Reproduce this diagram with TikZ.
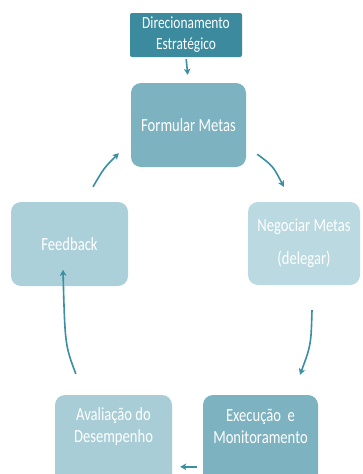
\documentclass[tikz,border=0pt]{standalone}
\usepackage{fontspec}
\setmainfont{Carlito}
\newfontfamily\narrowsans[FakeStretch=0.79]{Carlito}
\usetikzlibrary{calc,arrows.meta}
\definecolor{tealdark}{HTML}{3B8A9E}
\definecolor{tealmid}{HTML}{7DB2C0}
\definecolor{teallight}{HTML}{ACD0D9}
\definecolor{tealpale}{HTML}{BAD9E0}
\definecolor{tealsoft}{HTML}{A8CDD7}
\definecolor{arrowteal}{HTML}{3A8FA3}
\tikzset{
  stage/.style={rectangle, rounded corners=10pt, draw=none, inner sep=0pt,
    text=white, align=center, font=\narrowsans\fontsize{18.5}{22}\selectfont},
  stagetext/.style={inner sep=0pt, text=white, align=center,
    font=\narrowsans\fontsize{18.5}{22}\selectfont},
  flow/.style={draw=arrowteal, line width=1.6pt,
    -{Stealth[length=6pt,width=6.5pt,inset=1.5pt]}}
}
\begin{document}
\begin{tikzpicture}[x=1pt,y=-1pt]
  \useasboundingbox (0,0) rectangle (362,474);
  \clip (0,0) rectangle (362,474);
  \fill[white] (0,0) rectangle (362,474);

  % strategic input
  \node[stage, fill=tealdark, rounded corners=2pt, minimum width=112pt,
        minimum height=44pt, font=\narrowsans\fontsize{17}{21}\selectfont]
        (dir) at (186,35) {Direcionamento\\Estratégico};

  % the five stages of the cycle
  \node[stage, fill=tealmid, minimum width=115pt, minimum height=84pt]
        (fm) at (188.5,125) {Formular Metas};
  \node[stage, fill=tealpale, minimum width=112pt, minimum height=83pt,
        font=\narrowsans\fontsize{18.5}{33}\selectfont]
        (nm) at (304,243.5) {Negociar Metas\\(delegar)};
  \node[stage, fill=teallight, minimum width=117pt, minimum height=84pt]
        (fb) at (69.5,244) {Feedback};
  \node[stage, fill=tealsoft, minimum width=117pt, minimum height=100pt]
        (av) at (113.5,445) {};
  \node[stagetext] (avt) at ($(av.north)+(0,32)$) {Avaliação do\\Desempenho};
  \node[stage, fill=tealmid, minimum width=115pt, minimum height=100pt]
        (ex) at (260.5,445) {};
  \node[stagetext] (ext) at ($(ex.north)+(0,32)$) {Execução\ \ e\\Monitoramento};

  % arrow end points around the cycle
  \coordinate (fm-out) at ($(fm.south east)+(11,-13)$);
  \coordinate (nm-in)  at ($(nm.north west)+(36,-15)$);
  \coordinate (nm-out) at ($(nm.south)+(8,25)$);
  \coordinate (ex-in)  at ($(ex.north)+(39.5,-20)$);
  \coordinate (ex-out) at ($(ex.north west)+(-6,72)$);
  \coordinate (av-in)  at ($(av.north east)+(8,72)$);
  \coordinate (av-out) at ($(av.north west)+(21,-21)$);
  \coordinate (fb-in)  at ($(fb.north)+(-6.5,68)$);
  \coordinate (fb-out) at ($(fb.north)+(23.5,-15)$);
  \coordinate (fm-in)  at ($(fm.south west)+(-12,-14)$);

  % connectors
  \draw[flow, shorten <=2pt, shorten >=8pt] (dir.south) -- (fm.north);
  \draw[flow] (fm-out) .. controls (273,166) .. (nm-in);
  \draw[flow] (nm-out) .. controls (311,345) .. (ex-in);
  \draw[flow] (ex-out) -- (av-in);
  \draw[flow] (av-out) .. controls (65,345) .. (fb-in);
  \draw[flow] (fb-out) .. controls (104,168) .. (fm-in);
\end{tikzpicture}
\end{document}
